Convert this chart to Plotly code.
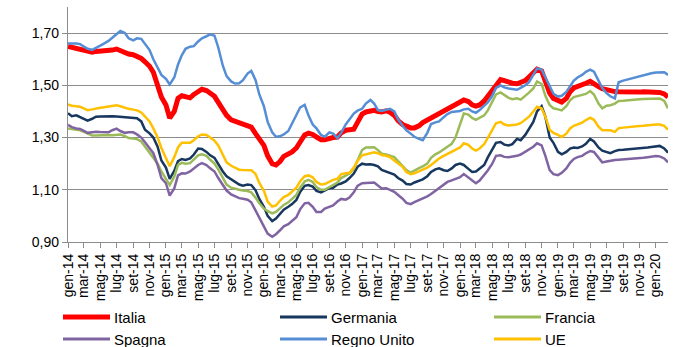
import pandas as pd
import plotly.graph_objects as go

# Semi-monthly observations, 1st and 15th of each month (gen-14 .. feb-20)
dates = pd.date_range("2014-01-01", "2020-02-15", freq="SMS")

italia = [
    1.649, 1.645, 1.643, 1.640, 1.635, 1.628, 1.627, 1.630, 1.631, 1.630,
    1.630, 1.635, 1.639, 1.632, 1.624, 1.620, 1.617, 1.612, 1.603, 1.590,
    1.573, 1.550, 1.500, 1.455, 1.425, 1.375, 1.400, 1.450, 1.460, 1.455,
    1.452, 1.465, 1.478, 1.485, 1.480, 1.470, 1.458, 1.435,
    1.405, 1.385, 1.368, 1.362, 1.357, 1.350, 1.345, 1.340, 1.315, 1.292,
    1.270, 1.230, 1.200, 1.195, 1.208, 1.228, 1.235, 1.245, 1.260, 1.285,
    1.310, 1.317, 1.312, 1.302, 1.292, 1.292, 1.298, 1.300, 1.302, 1.318,
    1.328, 1.330, 1.332, 1.358, 1.390, 1.398,
    1.402, 1.404, 1.400, 1.398, 1.402, 1.397, 1.385, 1.365, 1.350, 1.342,
    1.337, 1.337, 1.345, 1.357, 1.367, 1.375, 1.383, 1.390, 1.400, 1.410,
    1.418, 1.425, 1.435, 1.444, 1.438, 1.425, 1.420, 1.425, 1.440, 1.460,
    1.480, 1.505, 1.522, 1.518, 1.512, 1.508, 1.506,
    1.510, 1.518, 1.532, 1.550, 1.562, 1.555, 1.520, 1.470, 1.450, 1.445,
    1.436, 1.450, 1.475, 1.490, 1.497, 1.502, 1.508, 1.515, 1.508, 1.495,
    1.487, 1.482, 1.478, 1.476, 1.475, 1.474, 1.474, 1.473, 1.474, 1.474,
    1.475, 1.474, 1.474, 1.475, 1.473, 1.467, 1.455,
]

germania = [
    1.393, 1.382, 1.385, 1.378, 1.372, 1.365, 1.372, 1.380, 1.381, 1.382,
    1.381, 1.382, 1.381, 1.380, 1.380, 1.378, 1.377, 1.374, 1.362, 1.330,
    1.316, 1.300, 1.265, 1.212, 1.185, 1.142, 1.172, 1.210, 1.218, 1.214,
    1.220, 1.235, 1.258, 1.256, 1.245, 1.232, 1.222, 1.198,
    1.170, 1.152, 1.140, 1.133, 1.120, 1.116, 1.120, 1.118, 1.098, 1.065,
    1.035, 1.000, 0.980, 0.990, 1.008, 1.024, 1.035, 1.045, 1.061, 1.092,
    1.115, 1.118, 1.112, 1.096, 1.090, 1.097, 1.106, 1.108, 1.120, 1.124,
    1.132, 1.145, 1.162, 1.188, 1.200, 1.197,
    1.198, 1.195, 1.190, 1.176, 1.170, 1.166, 1.158, 1.145, 1.135, 1.122,
    1.120, 1.128, 1.135, 1.140, 1.152, 1.168, 1.178, 1.182, 1.175, 1.172,
    1.182, 1.195, 1.200, 1.195, 1.180, 1.168, 1.170, 1.182, 1.195, 1.225,
    1.255, 1.280, 1.283, 1.273, 1.270, 1.275, 1.295,
    1.290, 1.310, 1.335, 1.360, 1.400, 1.420, 1.380, 1.300, 1.280, 1.245,
    1.236, 1.245, 1.258, 1.262, 1.260, 1.266, 1.276, 1.295, 1.285, 1.262,
    1.250, 1.246, 1.240, 1.248, 1.252, 1.253, 1.254, 1.255, 1.256, 1.258,
    1.260, 1.262, 1.264, 1.267, 1.268, 1.258, 1.242,
]

francia = [
    1.335, 1.332, 1.330, 1.328, 1.322, 1.315, 1.308, 1.308, 1.309, 1.310,
    1.310, 1.309, 1.310, 1.312, 1.305, 1.298, 1.296, 1.294, 1.285, 1.265,
    1.240, 1.222, 1.200, 1.170, 1.140, 1.118, 1.150, 1.195, 1.203, 1.200,
    1.202, 1.215, 1.232, 1.236, 1.230, 1.215, 1.200, 1.178,
    1.144, 1.120, 1.108, 1.103, 1.100, 1.097, 1.095, 1.090, 1.070, 1.048,
    1.028, 1.018, 1.010, 1.015, 1.030, 1.042, 1.052, 1.065, 1.080, 1.108,
    1.132, 1.138, 1.130, 1.110, 1.100, 1.100, 1.110, 1.118, 1.128, 1.145,
    1.155, 1.162, 1.180, 1.215, 1.252, 1.262,
    1.263, 1.263, 1.252, 1.238, 1.235, 1.230, 1.225, 1.210, 1.190, 1.175,
    1.166, 1.175, 1.183, 1.190, 1.200, 1.222, 1.236, 1.243, 1.255, 1.268,
    1.276, 1.300, 1.355, 1.392, 1.388, 1.375, 1.368, 1.375, 1.385, 1.405,
    1.435, 1.465, 1.473, 1.462, 1.452, 1.447, 1.450,
    1.445, 1.458, 1.472, 1.488, 1.515, 1.505, 1.460, 1.425, 1.412, 1.408,
    1.404, 1.420, 1.443, 1.455, 1.458, 1.462, 1.467, 1.478, 1.465, 1.430,
    1.412, 1.422, 1.424, 1.430, 1.440, 1.441, 1.443, 1.444, 1.445, 1.447,
    1.448, 1.449, 1.450, 1.451, 1.450, 1.440, 1.412,
]

spagna = [
    1.349, 1.340, 1.335, 1.333, 1.326, 1.318, 1.320, 1.322, 1.321, 1.320,
    1.320, 1.328, 1.334, 1.325, 1.318, 1.320, 1.320, 1.312, 1.300, 1.282,
    1.258, 1.240, 1.195, 1.145, 1.125, 1.078, 1.105, 1.155, 1.163, 1.162,
    1.170, 1.183, 1.195, 1.202, 1.195, 1.182, 1.170, 1.145,
    1.118, 1.097, 1.082, 1.075, 1.068, 1.066, 1.062, 1.052, 1.020, 0.992,
    0.960, 0.932, 0.920, 0.930, 0.945, 0.960, 0.968, 0.980, 0.995, 1.025,
    1.048, 1.050, 1.035, 1.015, 1.015, 1.028, 1.033, 1.040, 1.055, 1.065,
    1.062, 1.070, 1.090, 1.115, 1.125, 1.125,
    1.127, 1.128, 1.118, 1.105, 1.106, 1.100, 1.092, 1.080, 1.066, 1.050,
    1.045, 1.053, 1.060, 1.066, 1.075, 1.084, 1.096, 1.105, 1.120, 1.130,
    1.136, 1.142, 1.148, 1.160, 1.148, 1.135, 1.125, 1.135, 1.155, 1.175,
    1.200, 1.230, 1.232, 1.226, 1.225, 1.227, 1.230,
    1.235, 1.245, 1.255, 1.265, 1.278, 1.270, 1.230, 1.175, 1.160, 1.156,
    1.165, 1.182, 1.203, 1.218, 1.225, 1.230, 1.240, 1.248, 1.245, 1.225,
    1.205, 1.208, 1.212, 1.214, 1.215, 1.216, 1.217, 1.218, 1.219, 1.221,
    1.223, 1.225, 1.227, 1.229, 1.228, 1.220, 1.205,
]

regno_unito = [
    1.660, 1.661, 1.660, 1.658, 1.650, 1.640, 1.636, 1.645, 1.652, 1.660,
    1.670, 1.682, 1.697, 1.708, 1.700, 1.680, 1.672, 1.680, 1.678, 1.660,
    1.635, 1.600, 1.565, 1.540, 1.525, 1.503, 1.530, 1.580, 1.615, 1.640,
    1.648, 1.650, 1.668, 1.680, 1.688, 1.695, 1.690, 1.645,
    1.575, 1.535, 1.515, 1.507, 1.508, 1.520, 1.545, 1.555, 1.520, 1.465,
    1.420, 1.360, 1.320, 1.303, 1.305, 1.312, 1.325, 1.355, 1.385, 1.415,
    1.425, 1.385, 1.350, 1.335, 1.310, 1.303, 1.320, 1.315, 1.298, 1.318,
    1.350, 1.370, 1.392, 1.403, 1.410, 1.430,
    1.444, 1.430, 1.405, 1.402, 1.408, 1.410, 1.400, 1.370, 1.345, 1.328,
    1.315, 1.303, 1.295, 1.290, 1.318, 1.352, 1.358, 1.362, 1.378, 1.390,
    1.398, 1.400, 1.402, 1.408, 1.410, 1.400, 1.395, 1.405, 1.420, 1.435,
    1.460, 1.490, 1.500, 1.492, 1.488, 1.486, 1.483,
    1.490, 1.500, 1.512, 1.540, 1.565, 1.560, 1.530, 1.495, 1.468, 1.457,
    1.460, 1.475, 1.495, 1.518, 1.530, 1.540, 1.552, 1.560, 1.552, 1.520,
    1.490, 1.470, 1.458, 1.450, 1.512, 1.518, 1.522, 1.526, 1.530, 1.535,
    1.538, 1.542, 1.546, 1.549, 1.550, 1.550, 1.540,
]

ue = [
    1.427, 1.422, 1.420, 1.418, 1.412, 1.405, 1.408, 1.412, 1.414, 1.416,
    1.418, 1.422, 1.424, 1.420, 1.413, 1.410, 1.407, 1.404, 1.396, 1.382,
    1.362, 1.335, 1.300, 1.260, 1.225, 1.190, 1.225, 1.262, 1.280, 1.279,
    1.280, 1.290, 1.305, 1.312, 1.310, 1.300, 1.288, 1.270,
    1.234, 1.205, 1.192, 1.185, 1.177, 1.176, 1.177, 1.175, 1.160, 1.126,
    1.096, 1.055, 1.036, 1.040, 1.058, 1.072, 1.080, 1.093, 1.108, 1.132,
    1.152, 1.155, 1.148, 1.130, 1.120, 1.122, 1.132, 1.138, 1.142, 1.160,
    1.163, 1.165, 1.185, 1.210, 1.232, 1.236,
    1.242, 1.244, 1.240, 1.233, 1.230, 1.225, 1.212, 1.200, 1.188, 1.168,
    1.160, 1.163, 1.170, 1.177, 1.185, 1.195, 1.208, 1.220, 1.230, 1.238,
    1.245, 1.255, 1.262, 1.278, 1.272, 1.258, 1.250, 1.258, 1.275, 1.300,
    1.330, 1.355, 1.360, 1.350, 1.346, 1.347, 1.350,
    1.355, 1.368, 1.380, 1.400, 1.418, 1.412, 1.380, 1.330, 1.318, 1.310,
    1.302, 1.315, 1.335, 1.345, 1.350, 1.357, 1.367, 1.376, 1.368, 1.342,
    1.328, 1.328, 1.328, 1.322, 1.336, 1.338, 1.340, 1.341, 1.342, 1.344,
    1.345, 1.347, 1.349, 1.350, 1.350, 1.345, 1.330,
]

# Bimonthly tick labels
mesi = ["gen", "mar", "mag", "lug", "set", "nov"]
tick_dates = pd.date_range("2014-01-01", "2020-01-01", freq="2MS")
tick_text = [f"{mesi[(d.month - 1) // 2]}-{d.strftime('%y')}" for d in tick_dates]

series = [
    ("Italia", italia, "#FF0000", 5),
    ("Germania", germania, "#17375E", 2.5),
    ("Francia", francia, "#9BBB59", 2.5),
    ("Spagna", spagna, "#8064A2", 2.5),
    ("Regno Unito", regno_unito, "#558ED5", 2.5),
    ("UE", ue, "#FFC000", 2.5),
]

W, H = 681, 347
M_L, M_R, M_T, M_B = 68, 13, 7, 105
plot_w, plot_h = W - M_L - M_R, H - M_T - M_B


def px_to_paper(px, py):
    return (px - M_L) / plot_w, (H - M_B - py) / plot_h


fig = go.Figure()
for name, vals, color, width in series:
    assert len(vals) == len(dates), name
    fig.add_trace(go.Scatter(
        x=dates, y=vals, name=name, mode="lines",
        line=dict(color=color, width=width), showlegend=False,
    ))

# Legend: three columns, two rows, drawn below the axis labels
legend_cols = [63, 280, 494]
legend_rows = [317, 339]
swatch_len = 47
shapes, annotations = [], []
for i, (name, _, color, width) in enumerate(series):
    lx = legend_cols[i % 3]
    ly = legend_rows[i // 3]
    x0, y0 = px_to_paper(lx, ly)
    x1, _ = px_to_paper(lx + swatch_len, ly)
    tx, _ = px_to_paper(lx + swatch_len + 2, ly)
    shapes.append(dict(type="line", xref="paper", yref="paper",
                       x0=x0, x1=x1, y0=y0, y1=y0,
                       line=dict(color=color, width=width + (0.5 if width < 4 else 0))))
    annotations.append(dict(text=name, xref="paper", yref="paper", x=tx, y=y0,
                            xanchor="left", yanchor="middle", showarrow=False,
                            font=dict(size=15, color="#000000")))

axis_grey = "#8C8C8C"
fig.update_layout(
    width=W, height=H,
    margin=dict(l=M_L, r=M_R, t=M_T, b=M_B),
    paper_bgcolor="white", plot_bgcolor="white",
    separators=",.",
    font=dict(family="Liberation Sans, Arial, sans-serif", size=14, color="#000000"),
    showlegend=False,
    shapes=shapes,
    annotations=annotations,
    xaxis=dict(
        type="date",
        range=[dates[0], dates[-1]],
        tickvals=list(tick_dates), ticktext=tick_text, tickangle=-90,
        showgrid=False, showline=True, linecolor=axis_grey, linewidth=1.3,
        ticks="outside", ticklen=5, tickcolor=axis_grey, tickwidth=1.3,
        tickfont=dict(size=14),
    ),
    yaxis=dict(
        range=[0.90, 1.80], tick0=0.90, dtick=0.20, tickformat=".2f",
        showgrid=True, gridcolor=axis_grey, gridwidth=1.3,
        showline=True, linecolor=axis_grey, linewidth=1.3,
        ticks="outside", ticklen=5, tickcolor=axis_grey, tickwidth=1.3,
        zeroline=False, tickfont=dict(size=14),
    ),
)

fig.write_html("out.html")
